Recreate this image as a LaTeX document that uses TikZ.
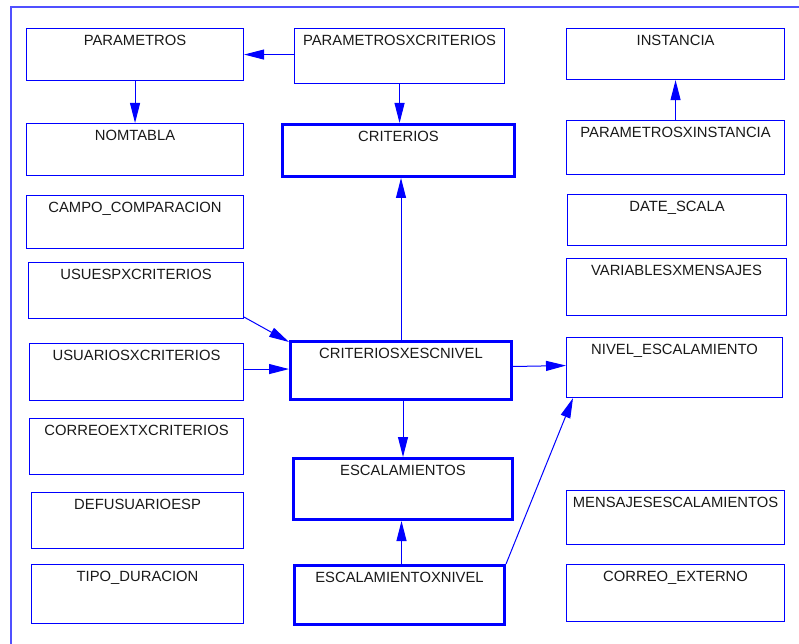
\documentclass[tikz,border=0pt]{standalone}
\usepackage{fontspec}
\setmainfont{Liberation Sans}
\usetikzlibrary{arrows.meta}
\definecolor{lineblue}{RGB}{0,0,255}
\definecolor{frameblue}{RGB}{80,80,255}
\definecolor{txt}{RGB}{25,25,25}
\begin{document}
\begin{tikzpicture}[x=1pt,y=-1pt,
  tbl/.style={draw=lineblue, line width=1.1pt, anchor=north west, inner sep=0pt,
    text height=17pt, text=txt, font=\fontsize{14.8}{17}\selectfont},
  maintbl/.style={tbl, line width=3pt},
  arr/.style={draw=lineblue, line width=1pt, -{Triangle[length=20pt,width=10pt]}},
]
\useasboundingbox (0,0) rectangle (799,644);
% outer frame of the diagram page
\draw[frameblue, line width=1.2pt] (11,650) -- (11,7) -- (805,7);

% left column
\node[tbl, minimum width=217pt, text depth=35pt] (par)    at (26,28)  {PARAMETROS};
\node[tbl, minimum width=217pt, text depth=35pt] (nomt)   at (26,123) {NOMTABLA};
\node[tbl, minimum width=217pt, text depth=36pt] (campo)  at (26,195) {CAMPO\_COMPARACION};
\node[tbl, minimum width=215pt, text depth=39pt] (usuesp) at (28,262) {USUESPXCRITERIOS};
\node[tbl, minimum width=214pt, text depth=40pt] (usu)    at (29,343) {USUARIOSXCRITERIOS};
\node[tbl, minimum width=214pt, text depth=39pt] (corx)   at (29,418) {CORREOEXTXCRITERIOS};
\node[tbl, minimum width=212pt, text depth=39pt] (defus)  at (31,492) {DEFUSUARIOESP};
\node[tbl, minimum width=212pt, text depth=42pt] (tipo)   at (31,564) {TIPO\_DURACION};

% middle column
\node[tbl, minimum width=210pt, text depth=38pt]     (pxc)  at (294,28)  {PARAMETROSXCRITERIOS};
\node[maintbl, minimum width=232pt, text depth=35pt] (crit) at (281,123) {CRITERIOS};
\node[maintbl, minimum width=221pt, text depth=41pt] (cxe)  at (289,340) {CRITERIOSXESCNIVEL};
\node[maintbl, minimum width=219pt, text depth=44pt] (esc)  at (292,457) {ESCALAMIENTOS};
\node[maintbl, minimum width=210pt, text depth=42pt] (exn)  at (293,564) {ESCALAMIENTOXNIVEL};

% right column
\node[tbl, minimum width=218pt, text depth=34pt] (inst)  at (566,28)  {INSTANCIA};
\node[tbl, minimum width=218pt, text depth=37pt] (pxi)   at (566,120) {PARAMETROSXINSTANCIA};
\node[tbl, minimum width=219pt, text depth=34pt] (date)  at (567,194) {DATE\_SCALA};
\node[tbl, minimum width=220pt, text depth=40pt] (vars)  at (566,258) {VARIABLESXMENSAJES};
\node[tbl, minimum width=216pt, text depth=43pt] (nivel) at (566,337) {NIVEL\_ESCALAMIENTO};
\node[tbl, minimum width=218pt, text depth=37pt] (mens)  at (566,490) {MENSAJESESCALAMIENTOS};
\node[tbl, minimum width=218pt, text depth=40pt] (cext)  at (566,564) {CORREO\_EXTERNO};

% relationships
\draw[arr] (pxc.west |- par.east) -- (par.east);
\draw[arr] (par.south) -- (nomt.north);
\draw[arr] (pxc.south) -- (pxc.south |- crit.north);
\draw[arr] (cxe.north) -- (cxe.north |- crit.south);
\draw[arr] (pxi.north) -- (inst.south);
\draw[arr] ([yshift=2pt]usuesp.south east) -- ([yshift=-2pt]cxe.north west);
\draw[arr] ([yshift=3pt]usu.east) -- ([yshift=3pt]usu.east -| cxe.west);
\draw[arr] ([yshift=4pt]cxe.east) -- ([yshift=2pt]nivel.west);
\draw[arr] (esc.north |- cxe.south) -- (esc.north);
\draw[arr] ([xshift=2pt]exn.north) -- ([xshift=2pt]exn.north |- esc.south);
\draw[arr] (exn.north east) -- ([xshift=7pt]nivel.south west);
\end{tikzpicture}
\end{document}
